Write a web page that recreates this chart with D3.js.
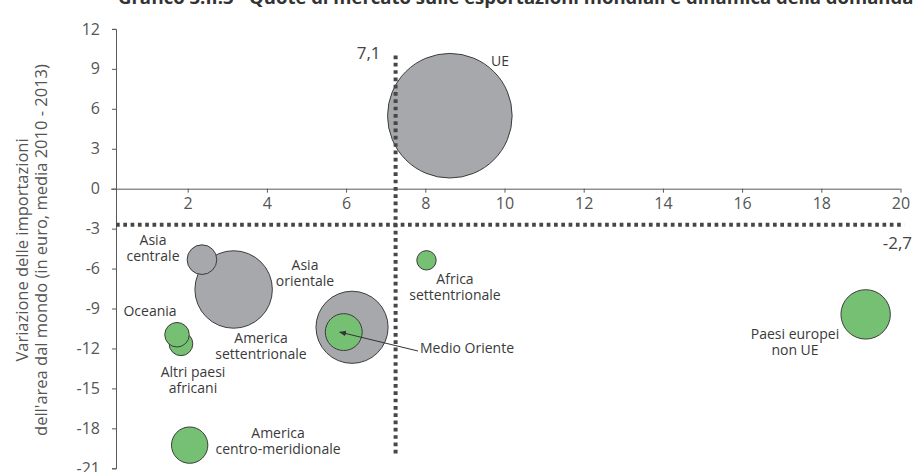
<!DOCTYPE html>
<html>
<head>
<meta charset="utf-8">
<script src="https://cdn.jsdelivr.net/npm/d3@7"></script>
<style>
body { margin: 0; background: #fff; }
svg { display: block; font-family: "Open Sans", "Noto Sans", sans-serif; }
</style>
</head>
<body>
<script>
var width = 914, height = 472;

// bubble data: area, x = quota di mercato, y = variazione importazioni, size = peso export
var areas = ["UE", "Asia orientale", "America settentrionale", "Paesi europei non UE", "Asia centrale",
	"Medio Oriente", "America centro-meridionale", "Altri paesi africani", "Oceania", "Africa settentrionale"];
var shareX = [8.62, 3.16, 6.15, 19.12, 2.36, 5.94, 2.05, 1.83, 1.73, 8.03];
var demandY = [5.48, -7.57, -10.41, -9.44, -5.33, -10.77, -19.26, -11.65, -10.97, -5.38];
var sizes = [38.8, 15.0, 13.0, 6.1, 2.2, 3.4, 3.3, 1.4, 1.5, 0.94];
var groups = ["g", "g", "g", "v", "g", "v", "v", "v", "v", "v"];

var xTicks = [2, 4, 6, 8, 10, 12, 14, 16, 18, 20];
var yTicks = [12, 9, 6, 3, 0, -3, -6, -9, -12, -15, -18, -21];

var refX = 7.25, refXLabel = "7,1";
var refY = -2.7, refYLabel = "-2,7";

// label lines + anchor for each area
var labelLines = [["UE"], ["Asia", "orientale"], ["America", "settentrionale"], ["Paesi europei", "non UE"],
	["Asia", "centrale"], ["Medio Oriente"], ["America", "centro-meridionale"], ["Altri paesi", "africani"],
	["Oceania"], ["Africa", "settentrionale"]];
var labelPos = [[500, 66], [305, 270], [261, 343], [795, 339], [153, 245], [420, 353], [278, 438], [193, 377], [150, 316], [455, 284]];
var labelAnchor = ["middle", "middle", "middle", "middle", "middle", "start", "middle", "middle", "middle", "middle"];

var colors = { g: "#a7a8ab", v: "#76c073" };

var x = d3.scaleLinear().domain([0, 20]).range([108.5, 900.5]);
var y = d3.scaleLinear().domain([-21, 12]).range([468.3, 28.9]);
var r = d3.scaleSqrt().domain([0, 38.8]).range([0, 62.3]);
var axisX = 116;

var svg = d3.select("body").append("svg")
	.attr("width", width).attr("height", height);

svg.append("defs").append("marker")
	.attr("id", "arrow").attr("viewBox", "0 0 10 10")
	.attr("refX", 9).attr("refY", 5)
	.attr("markerWidth", 7).attr("markerHeight", 7)
	.attr("orient", "auto")
	.append("path").attr("d", "M0,1 L10,5 L0,9 z").attr("fill", "#333");

// title (clipped at the top like in the source)
svg.append("text")
	.attr("x", 118).attr("y", 4)
	.attr("font-size", 18.5).attr("font-weight", "bold").attr("fill", "#333")
	.text("Grafico 3.II.3 - Quote di mercato sulle esportazioni mondiali e dinamica della domanda");

// x axis at y = 0
var gx = svg.append("g")
	.attr("transform", "translate(0," + y(0) + ")")
	.call(d3.axisBottom(x).tickValues(xTicks).tickSizeInner(4).tickSizeOuter(0).tickPadding(5)
		.tickFormat(function (d) { return String(d); }));
gx.select(".domain").attr("d", "M111,0.5H" + x(20)).attr("stroke", "#595959");
gx.selectAll(".tick line").attr("stroke", "#595959");
gx.selectAll(".tick text").attr("font-size", 16).attr("fill", "#555").attr("font-family", "Open Sans");

var gy = svg.append("g")
	.attr("transform", "translate(" + axisX + ",0)")
	.call(d3.axisLeft(y).tickValues(yTicks).tickSizeInner(4).tickSizeOuter(4).tickPadding(12)
		.tickFormat(function (d) { return String(d); }));
gy.select(".domain").attr("stroke", "#595959");
gy.selectAll(".tick line").attr("stroke", "#595959");
gy.selectAll(".tick text").attr("font-size", 16).attr("fill", "#555").attr("font-family", "Open Sans");

// y title
var yt = svg.append("text")
	.attr("transform", "translate(28,250) rotate(-90)")
	.attr("text-anchor", "middle").attr("font-size", 16.5).attr("fill", "#555");
yt.append("tspan").attr("x", 0).attr("dy", 0).text("Variazione delle importazioni");
yt.append("tspan").attr("x", 0).attr("dy", 19).text("dell'area dal mondo (in euro, media 2010 - 2013)");

// bubbles
var idx = d3.range(areas.length);
svg.append("g").selectAll("circle")
	.data(idx)
	.enter().append("circle")
	.attr("cx", function (i) { return x(shareX[i]); })
	.attr("cy", function (i) { return y(demandY[i]); })
	.attr("r", function (i) { return r(sizes[i]); })
	.attr("fill", function (i) { return colors[groups[i]]; })
	.attr("stroke", "#3c3c3c").attr("stroke-width", 1);

// reference lines
svg.append("line")
	.attr("x1", x(refX)).attr("x2", x(refX))
	.attr("y1", y(10)).attr("y2", y(-20))
	.attr("stroke", "#474747").attr("stroke-width", 4).attr("stroke-dasharray", "3.7,3.6");
svg.append("line")
	.attr("x1", axisX).attr("x2", x(20.1))
	.attr("y1", y(refY)).attr("y2", y(refY))
	.attr("stroke", "#474747").attr("stroke-width", 4).attr("stroke-dasharray", "3.7,3.6");

svg.append("text").attr("x", x(refX) - 15).attr("y", 59)
	.attr("text-anchor", "end").attr("font-size", 17).attr("fill", "#444").text(refXLabel);
svg.append("text").attr("x", 912).attr("y", 249)
	.attr("text-anchor", "end").attr("font-size", 17).attr("fill", "#444").text(refYLabel);

// arrow to Medio Oriente
var mo = areas.indexOf("Medio Oriente");
svg.append("line")
	.attr("x1", 418).attr("y1", 351)
	.attr("x2", x(shareX[mo]) - 4).attr("y2", y(demandY[mo]))
	.attr("stroke", "#333").attr("stroke-width", 1)
	.attr("marker-end", "url(#arrow)");

// labels
var lab = svg.append("g").attr("font-size", 14).attr("fill", "#3a3a3a");
idx.forEach(function (i) {
	var t = lab.append("text")
		.attr("x", labelPos[i][0]).attr("y", labelPos[i][1])
		.attr("text-anchor", labelAnchor[i]);
	labelLines[i].forEach(function (l, k) {
		t.append("tspan").attr("x", labelPos[i][0]).attr("dy", k === 0 ? 0 : 16).text(l);
	});
});
</script>
</body>
</html>
